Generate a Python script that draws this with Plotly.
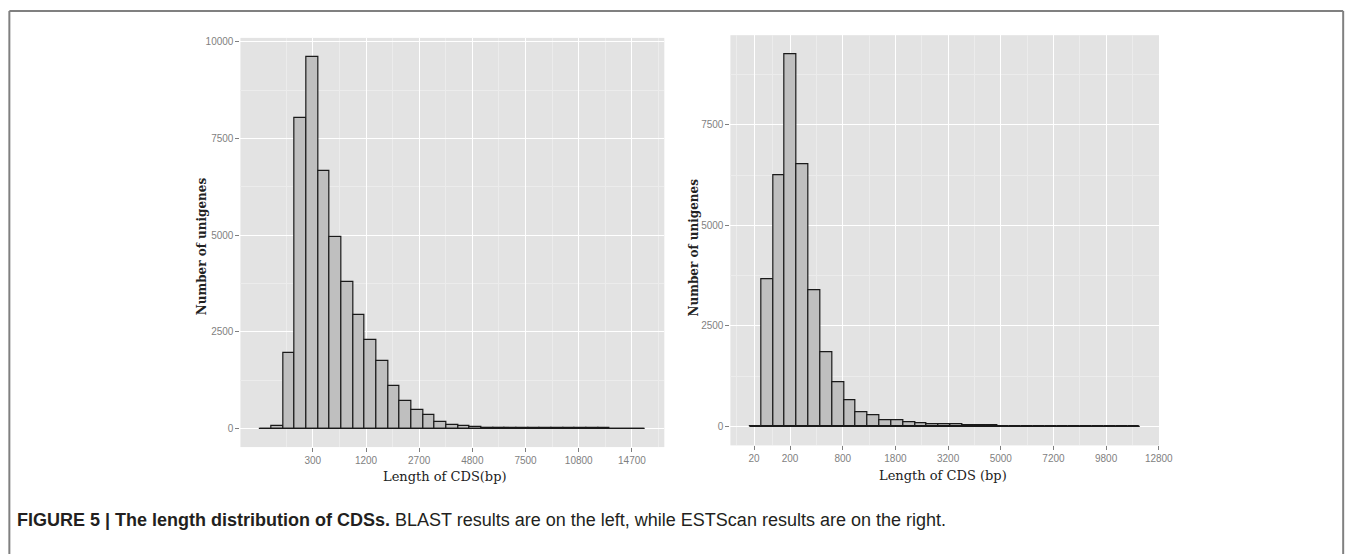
import numpy as np
import plotly.graph_objects as go

# ---------------- data ----------------
# BLAST (left panel): histogram counts, bins equal width on a sqrt(length) scale
left_counts = [0, 60, 1950, 8030, 9620, 6670, 4950, 3790, 2930, 2290, 1760,
               1090, 725, 480, 345, 165, 90, 55, 35, 24, 16, 12, 9, 7, 5, 4,
               3, 3, 2, 2, 1, 1, 1]
left_bin_start_sqrt = 0.0
left_bin_width_sqrt = 3.80
left_tick_labels = [300, 1200, 2700, 4800, 7500, 10800, 14700]
left_y_ticks = [0, 2500, 5000, 7500, 10000]

# ESTScan (right panel)
right_counts = [0, 3670, 6260, 9250, 6520, 3380, 1850, 1100, 655, 365, 275,
                165, 148, 100, 83, 64, 55, 45, 33, 25, 20, 15, 12, 10, 8, 6,
                5, 4, 3, 3, 2, 2, 1]
right_bin_start_sqrt = 3.22
right_bin_width_sqrt = 3.176
right_tick_labels = [20, 200, 800, 1800, 3200, 5000, 7200, 9800, 12800]
right_y_ticks = [0, 2500, 5000, 7500]

x_title_left = "Length of CDS(bp)"
x_title_right = "Length of CDS (bp)"
y_title = "Number of unigenes"
caption_bold = "FIGURE 5 | The length distribution of CDSs."
caption_rest = " BLAST results are on the left, while ESTScan results are on the right."

# ---------------- figure geometry ----------------
# The page keeps the browser's default 8px body margin; the captured page is
# slightly wider than the nominal window, so horizontal positions are scaled.
OFF = 8
SX = 1374 / 1358
W, H = 1374 - OFF, 554 - OFF


def px(p):
    return (p * SX - OFF) / W


def py(p):
    return 1 - (p - OFF) / H


BAR_FILL = "#bfbfbf"
BAR_LINE = "#1a1a1a"
PANEL_BG = "#e3e3e3"
MINOR = "#ececec"
TICK_GREY = "#7f7f7f"

fig = go.Figure()


def add_hist(counts, start, width, xa, ya):
    n = len(counts)
    edges = start + width * np.arange(n + 1)
    centers = (edges[:-1] + edges[1:]) / 2
    fig.add_trace(go.Bar(
        x=centers, y=counts, width=[width] * n,
        marker=dict(color=BAR_FILL, line=dict(color=BAR_LINE, width=1.2)),
        xaxis=xa, yaxis=ya, showlegend=False, hoverinfo="x+y"))
    # baseline drawn by ggplot for (near) empty bins
    fig.add_trace(go.Scatter(
        x=[edges[0], edges[-1]], y=[0, 0], mode="lines",
        line=dict(color=BAR_LINE, width=1.2),
        xaxis=xa, yaxis=ya, showlegend=False, hoverinfo="skip"))


add_hist(left_counts, left_bin_start_sqrt, left_bin_width_sqrt, "x", "y")
add_hist(right_counts, right_bin_start_sqrt, right_bin_width_sqrt, "x2", "y2")


def midpoints(vals, lo, hi):
    v = list(vals)
    mids = [(a + b) / 2 for a, b in zip(v[:-1], v[1:])]
    out = [v[0] - (mids[0] - v[0])] + mids + [v[-1] + (v[-1] - mids[-1])]
    return [m for m in out if lo <= m <= hi]


lx = np.sqrt(left_tick_labels)
rx = np.sqrt(right_tick_labels)
lx_range = [-6.26, 131.8]
rx_range = [-1.88, 113.2]
ly_range = [-482, 10103]
ry_range = [-471, 9730]

tickfont = dict(family="Liberation Sans, Arial, sans-serif", size=10, color=TICK_GREY)
common_axis = dict(showline=False, zeroline=False, ticks="outside", ticklen=4,
                   tickwidth=1, tickcolor=TICK_GREY, tickfont=tickfont,
                   gridcolor="white", gridwidth=1.4, showgrid=True)

fig.update_layout(
    width=W, height=H, autosize=False, margin=dict(l=0, r=0, t=0, b=0),
    paper_bgcolor="white", plot_bgcolor=PANEL_BG, bargap=0,
    xaxis=dict(domain=[px(240), px(663.3)], range=lx_range, anchor="y",
               tickmode="array", tickvals=lx, ticktext=[str(t) for t in left_tick_labels],
               minor=dict(showgrid=True, gridcolor=MINOR, gridwidth=1, tickmode="array",
                          tickvals=midpoints(lx, *lx_range)),
               **common_axis),
    yaxis=dict(domain=[py(446.7), py(36)], range=ly_range, anchor="x",
               tickmode="array", tickvals=left_y_ticks,
               ticktext=[str(t) for t in left_y_ticks],
               minor=dict(showgrid=True, gridcolor=MINOR, gridwidth=1, tickmode="array",
                          tickvals=midpoints(left_y_ticks, *ly_range)),
               **common_axis),
    xaxis2=dict(domain=[px(729.3), px(1157.3)], range=rx_range, anchor="y2",
                tickmode="array", tickvals=rx, ticktext=[str(t) for t in right_tick_labels],
                minor=dict(showgrid=True, gridcolor=MINOR, gridwidth=1, tickmode="array",
                           tickvals=midpoints(rx, *rx_range)),
                **common_axis),
    yaxis2=dict(domain=[py(445), py(33.3)], range=ry_range, anchor="x2",
                tickmode="array", tickvals=right_y_ticks,
                ticktext=[str(t) for t in right_y_ticks],
                minor=dict(showgrid=True, gridcolor=MINOR, gridwidth=1, tickmode="array",
                           tickvals=midpoints(right_y_ticks, *ry_range)),
                **common_axis),
)

title_font = dict(family="DejaVu Serif, Liberation Serif, serif", size=13, color="#222222")
ann = []
ann.append(dict(text=x_title_left, x=px(444), y=py(476), xref="paper", yref="paper",
                showarrow=False, xanchor="center", yanchor="middle", font=title_font))
ann.append(dict(text=x_title_right, x=px(942), y=py(475), xref="paper", yref="paper",
                showarrow=False, xanchor="center", yanchor="middle", font=title_font))
ann.append(dict(text="<b>" + y_title + "</b>", x=px(201.7), y=py(245), xref="paper",
                yref="paper", showarrow=False, textangle=-90, xanchor="center",
                yanchor="middle", font=dict(title_font, size=12)))
ann.append(dict(text="<b>" + y_title + "</b>", x=px(693.3), y=py(246), xref="paper",
                yref="paper", showarrow=False, textangle=-90, xanchor="center",
                yanchor="middle", font=dict(title_font, size=12)))
ann.append(dict(text="<b>" + caption_bold + "</b>" + caption_rest, x=px(15),
                y=py(520), xref="paper", yref="paper", showarrow=False,
                xanchor="left", yanchor="middle",
                font=dict(family="Liberation Sans, Arial, sans-serif", size=18,
                          color="#231f20")))
fig.update_layout(annotations=ann)

# figure frame (top, left, right); kept inside the visible capture area
frame = dict(color="#808080", width=2)
x_left, x_right, y_top = 0.001, (1357 - OFF) / W, 1 - 1.0 / H
fig.update_layout(shapes=[
    dict(type="line", xref="paper", yref="paper", x0=x_left, x1=x_right,
         y0=y_top, y1=y_top, line=frame),
    dict(type="line", xref="paper", yref="paper", x0=x_left, x1=x_left,
         y0=0, y1=y_top, line=frame),
    dict(type="line", xref="paper", yref="paper", x0=x_right, x1=x_right,
         y0=0, y1=y_top, line=frame),
])

fig.write_html("out.html", config={"displayModeBar": False})
